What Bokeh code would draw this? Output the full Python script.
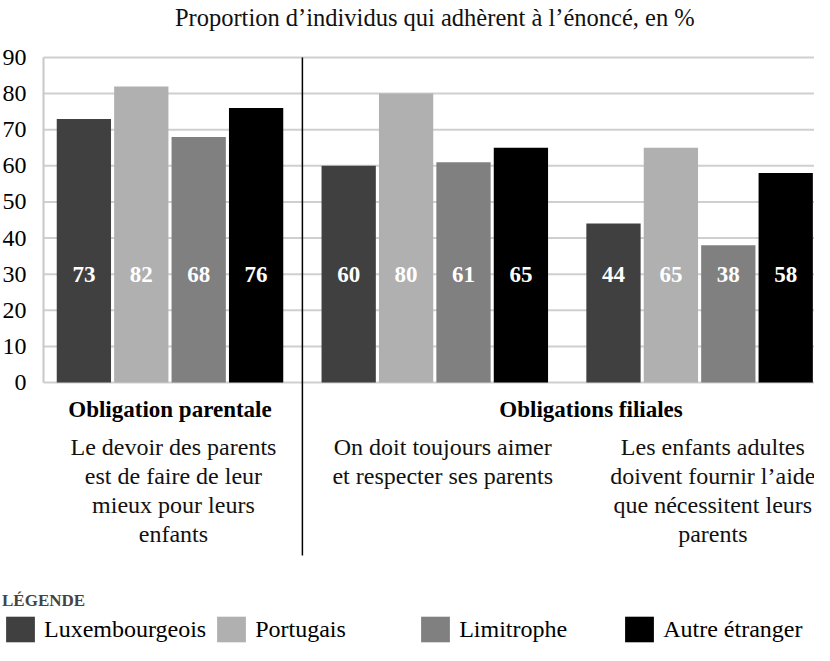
from bokeh.plotting import figure
from bokeh.models import (ColumnDataSource, Range1d, FixedTicker, Legend, LegendItem)
from bokeh.transform import dodge
from bokeh.core.properties import value
from bokeh.embed import file_html
from bokeh.resources import INLINE

# ---- data ----
title_text = "Proportion d’individus qui adhèrent à l’énoncé, en %"
groups = [0, 1, 2]
series = ["Luxembourgeois", "Portugais", "Limitrophe", "Autre étranger"]
luxembourgeois = [73, 60, 44]
portugais = [82, 80, 65]
limitrophe = [68, 61, 38]
autre_etranger = [76, 65, 58]
colors = ["#404040", "#b0b0b0", "#808080", "#000000"]
y_ticks = [0, 10, 20, 30, 40, 50, 60, 70, 80, 90]
headings = ["Obligation parentale", "Obligations filiales"]
heading_x = [0, 1.59]
descriptions = [
    "Le devoir des parents\nest de faire de leur\nmieux pour leurs\nenfants",
    "On doit toujours aimer\net respecter ses parents",
    "Les enfants adultes\ndoivent fournir l’aide\nque nécessitent leurs\nparents",
]
description_x = [0.013, 1.03, 2.05]
legend_title = "LÉGENDE"

FONT = "Liberation Serif"
W, H = 814, 645
PX_X = 264.8
PX_Y = 3.611
X_START = -0.6401
X_END = X_START + W / PX_X
Y_TOP = 382 / PX_Y
Y_BOTTOM = Y_TOP - H / PX_Y
AXIS_X = -0.4777

values_list = [luxembourgeois, portugais, limitrophe, autre_etranger]
data = dict(x=groups)
keys = ["lux", "por", "lim", "aut"]
for k, vals in zip(keys, values_list):
    data[k] = vals
    data[k + "_lab"] = [str(v) for v in vals]
source = ColumnDataSource(data)

p = figure(width=W, height=H,
           x_range=Range1d(X_START, X_END),
           y_range=Range1d(Y_BOTTOM, Y_TOP),
           output_backend="svg", toolbar_location=None,
           x_axis_location=None,
           min_border_left=0, min_border_right=0,
           min_border_top=0, min_border_bottom=0)
p.outline_line_color = None
p.background_fill_color = "white"
p.border_fill_color = "white"

# y axis placed inside the frame at the plot-area's left edge
yax = p.yaxis[0]
yax.fixed_location = AXIS_X
yax.ticker = FixedTicker(ticks=y_ticks)
yax.bounds = (0, 90)
yax.axis_line_color = "#c8c8c8"
yax.axis_line_width = 2
yax.major_tick_line_color = None
yax.minor_tick_line_color = None
yax.major_label_standoff = 11
yax.major_label_text_font = FONT
yax.major_label_text_font_size = "24px"
yax.major_label_text_color = "black"
p.xgrid.visible = False
p.ygrid.visible = False

# horizontal grid lines (only over the plot area)
p.segment(x0=[AXIS_X] * len(y_ticks), x1=[X_END] * len(y_ticks), y0=y_ticks, y1=y_ticks,
          line_color="#cfcfcf", line_width=2)

# bars
pitch = 0.2168
bw = 0.205
offsets = [-1.5 * pitch, -0.5 * pitch, 0.5 * pitch, 1.5 * pitch]
renderers = []
for k, off, c in zip(keys, offsets, colors):
    r = p.vbar(x=dodge("x", off, range=p.x_range), top=k, width=bw, bottom=0,
               source=source, fill_color=c, line_color=None)
    renderers.append(r)
for k, off in zip(keys, offsets):
    p.text(x=dodge("x", off, range=p.x_range), y=30, text=k + "_lab", source=source,
           text_color="white", text_font=value(FONT), text_font_style="bold",
           text_font_size="23px", text_align="center", text_baseline="middle")

# separator
p.segment(x0=[0.5], y0=[90], x1=[0.5], y1=[-47.9], line_color="black", line_width=1.5)

# title
p.text(x=[1.0], y=[101.0], text=[title_text], text_font=value(FONT),
       text_font_size="24.5px", text_align="center", text_baseline="middle",
       text_color="#111111")

# headings
p.text(x=heading_x, y=[-7.34, -7.34], text=headings, text_font=value(FONT),
       text_font_style="bold", text_font_size="23px", text_align="center",
       text_baseline="middle", text_color="black")

# descriptions
p.text(x=description_x, y=[-14.38] * 3, text=descriptions, text_font=value(FONT),
       text_font_size="24px", text_align="center", text_baseline="top",
       text_line_height=1.11, text_color="#111111")

# legend
legend = Legend(items=[LegendItem(label=s, renderers=[r]) for s, r in zip(series, renderers)],
                orientation="horizontal", location=(2, 0),
                title=legend_title, title_text_font=FONT, title_text_font_style="bold",
                title_text_font_size="17px", title_standoff=2,
                label_text_font=FONT, label_text_font_size="24px", label_text_color="black",
                glyph_width=36, glyph_height=32, label_standoff=6, label_width=155,
                spacing=7, padding=0, margin=0,
                border_line_color=None, background_fill_alpha=0)
p.add_layout(legend)

open("out.html", "w").write(file_html(p, INLINE))
